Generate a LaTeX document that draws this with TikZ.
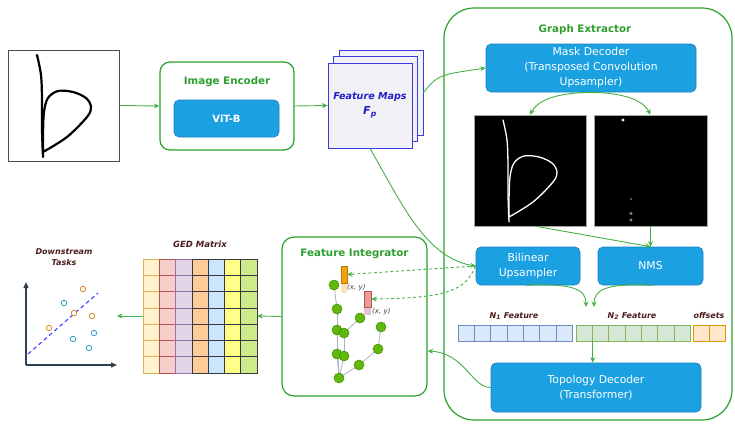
\documentclass[tikz,border=0pt]{standalone}
\usepackage{fontspec}
\setmainfont{DejaVu Sans}
\usetikzlibrary{arrows.meta}

\definecolor{boxgreen}{HTML}{2AA02A}
\definecolor{titlegreen}{HTML}{2E9E2E}
\definecolor{arrowgreen}{HTML}{45B045}
\definecolor{blockblue}{HTML}{1BA1E2}
\definecolor{blockline}{HTML}{1780C2}
\definecolor{fmblue}{HTML}{3A3AE0}
\definecolor{fmtext}{HTML}{2020C8}
\definecolor{fmfill}{HTML}{F2F2F6}
\definecolor{lblbrown}{HTML}{4A1C1C}
\definecolor{n1fill}{HTML}{DAE8FC}\definecolor{n1line}{HTML}{6C8EBF}
\definecolor{n2fill}{HTML}{D5E8D4}\definecolor{n2line}{HTML}{82B366}
\definecolor{offfill}{HTML}{FFE6CC}\definecolor{offline}{HTML}{D79B00}
\definecolor{gAf}{HTML}{FFF2CC}\definecolor{gAl}{HTML}{D6B656}
\definecolor{gBf}{HTML}{F8CECC}\definecolor{gBl}{HTML}{B85450}
\definecolor{gCf}{HTML}{E1D5E7}\definecolor{gCl}{HTML}{9673A6}
\definecolor{gDf}{HTML}{FFCC99}\definecolor{gDl}{HTML}{36393D}
\definecolor{gEf}{HTML}{CCE5FF}\definecolor{gEl}{HTML}{36393D}
\definecolor{gFf}{HTML}{FFFF88}\definecolor{gFl}{HTML}{36393D}
\definecolor{gGf}{HTML}{CDEB8B}\definecolor{gGl}{HTML}{36393D}
\definecolor{nodegreen}{HTML}{60B80C}\definecolor{nodeline}{HTML}{3C8A00}
\definecolor{edgegrey}{HTML}{A8B4C4}
\definecolor{axiscol}{HTML}{2F4050}
\definecolor{ptorange}{HTML}{D98A2B}\definecolor{ptblue}{HTML}{2F9FC8}
\definecolor{obar}{HTML}{F0A30A}\definecolor{obarline}{HTML}{C07800}\definecolor{obarfade}{HTML}{FBE3B8}
\definecolor{rbar}{HTML}{EA9A9A}\definecolor{rbarline}{HTML}{B85450}\definecolor{rbarfade}{HTML}{E3C3D8}

\tikzset{
  frame/.style={draw=boxgreen, line width=1.2pt},
  ttl/.style={text=titlegreen, font=\bfseries\fontsize{10.3}{12}\selectfont},
  block/.style={rounded corners=5pt, fill=blockblue, draw=blockline, line width=0.6pt,
    text=white, align=center, inner sep=0pt, font=\fontsize{10.8}{15}\selectfont},
  garrow/.style={draw=arrowgreen, line width=0.9pt, -{Stealth[length=5.5pt,width=5pt]}},
  gdash/.style={garrow, dash pattern=on 3pt off 2.5pt},
  fmpage/.style={draw=fmblue, fill=fmfill, line width=0.9pt, minimum width=84pt, minimum height=85pt, inner sep=0pt},
  cellbox/.style={minimum width=16.3pt, minimum height=16pt, inner sep=0pt, line width=0.7pt},
  lbl/.style={text=lblbrown, font=\bfseries\itshape\fontsize{8}{10}\selectfont},
  gnode/.style={circle, fill=nodegreen, draw=nodeline, line width=0.5pt, minimum size=10pt, inner sep=0pt},
  gedge/.style={draw=edgegrey, line width=0.8pt},
  mask/.style={fill=black, draw=gray!70, line width=0.6pt, inner sep=0pt},
  pt/.style={circle, line width=0.8pt, fill=white, minimum size=5.5pt, inner sep=0pt},
}

% the handwritten letter, relative to the top-left corner of its frame
\newcommand{\letterb}[2]{%
  \draw[shift={#1}, line cap=round, line join=round, #2]
    plot[smooth, tension=0.55] coordinates {(29,5) (33,25) (34,50) (34,80) (35,107)};
  \draw[shift={#1}, line cap=round, line join=round, #2]
    plot[smooth, tension=0.55] coordinates {(35,102) (59,87) (79,67) (83,57) (78,48) (65,42) (50,41) (40,48) (36,62) (35,85) (35,102)};
}

\begin{document}
\begin{tikzpicture}[x=1pt, y=-1pt]
\useasboundingbox (0,0) rectangle (735,426);

% ---------- input sketch ----------
\node[draw=gray!60!black, line width=0.9pt, minimum width=111pt, minimum height=111pt, inner sep=0pt] (img) at (63.5,105.5) {};
\letterb{(8,50)}{black, line width=2.2pt}

% ---------- image encoder ----------
\node[frame, rounded corners=10pt, minimum width=134pt, minimum height=88pt, inner sep=0pt] (enc) at (227,106) {};
\node[ttl] (enctitle) at (227,82) {Image Encoder};
\node[block, minimum width=105pt, minimum height=37pt, font=\bfseries\fontsize{10}{12}\selectfont] (vit) at (226.5,118.5) {ViT-B};

% ---------- feature maps ----------
\node[fmpage] (fmC) at (381,92.5) {};
\node[fmpage] (fmB) at (375.5,99) {};
\node[fmpage, align=center, text=fmtext, font=\bfseries\itshape\fontsize{9.6}{15}\selectfont] (fm) at (370,105.5) {Feature Maps\\{\fontsize{11}{15}\selectfont F\textsubscript{p}}};

% ---------- graph extractor ----------
\node[frame, rounded corners=30pt, minimum width=288pt, minimum height=412pt, inner sep=0pt] (ge) at (588,214) {};
\node[ttl] (getitle) at (585,30) {Graph Extractor};
\node[block, minimum width=210pt, minimum height=48pt] (md) at (591,68) {Mask Decoder\\(Transposed Convolution\\Upsampler)};

\node[mask, minimum width=112pt, minimum height=111pt] (mask1) at (530,170.5) {};
\letterb{(474,115)}{white, line width=1.3pt}
\node[mask, minimum width=113pt, minimum height=111pt] (mask2) at (650.5,170.5) {};
\fill[white] (623,120) circle (1.6);
\fill[gray!70] (631,199) circle (0.9);
\fill[gray!90] (631,213.5) circle (1.6);
\fill[gray!95] (631,220) circle (1.6);

\node[block, minimum width=104pt, minimum height=38pt] (bu) at (528,266) {Bilinear\\Upsampler};
\node[block, minimum width=105pt, minimum height=38pt] (nms) at (650.5,266) {NMS};

% token rows
\foreach \i in {0,...,6}
  \node[cellbox, fill=n1fill, draw=n1line] (na\i) at ({466.2+16.3*\i},333) {};
\foreach \i in {0,...,6}
  \node[cellbox, fill=n2fill, draw=n2line] (nb\i) at ({584.2+16.3*\i},333) {};
\foreach \i in {0,1}
  \node[cellbox, fill=offfill, draw=offline] (of\i) at ({701.2+16.3*\i},333) {};
\node[lbl] (n1lbl) at (514,316) {N\textsubscript{1} Feature};
\node[lbl] (n2lbl) at (632,316) {N\textsubscript{2} Feature};
\node[lbl] (offlbl) at (709,316) {offsets};

\node[block, minimum width=210pt, minimum height=49pt] (td) at (596,387.5) {Topology Decoder\\(Transformer)};

% ---------- feature integrator ----------
\node[frame, rounded corners=12pt, minimum width=145pt, minimum height=159pt, inner sep=0pt] (fi) at (354.5,316.5) {};
\node[ttl] (fititle) at (354.5,254) {Feature Integrator};

\foreach \n/\x/\y in {g1/334/285, g2/337/309, g3/337/330, g4/344/333, g5/360/318, g6/381/327,
                       g7/378/349, g8/359/365, g9/337/354, g10/344/356, g11/339/378}
  \coordinate (\n) at (\x,\y);
\foreach \a/\b in {g1/g2, g2/g3, g3/g9, g9/g11, g4/g10, g10/g11, g3/g11, g4/g5, g6/g7, g7/g8, g8/g11}
  \draw[gedge] (\a) -- (\b);
\foreach \n in {g1,g2,g3,g9,g4,g10,g5,g6,g7,g8,g11}
  \node[gnode] (\n n) at (\n) {};

\node[fill=obarfade, inner sep=0pt, minimum width=6pt, minimum height=10pt] (ofade) at (344,288) {};
\node[fill=obar, draw=obarline, line width=0.5pt, inner sep=0pt, minimum width=6pt, minimum height=17pt] (obarn) at (344,274.5) {};
\node[fill=rbarfade, inner sep=0pt, minimum width=7pt, minimum height=8pt] (rfade) at (367.5,311) {};
\node[fill=rbar, draw=rbarline, line width=0.5pt, inner sep=0pt, minimum width=7pt, minimum height=16pt] (rbarn) at (367.5,299) {};
\node[anchor=west, inner sep=0pt, text=black!75, font=\itshape\fontsize{7}{8}\selectfont] (xy1) at (347,288) {(x,\,\,y)};
\node[anchor=west, inner sep=0pt, text=black!75, font=\itshape\fontsize{7}{8}\selectfont] (xy2) at (372,312) {(x,\,\,y)};

% ---------- GED matrix ----------
\node[minimum width=114pt, minimum height=114pt, inner sep=0pt] (ged) at (200,316) {};
\node[lbl, font=\bfseries\itshape\fontsize{8.5}{10}\selectfont] (gedlbl) at (200,244) {GED Matrix};
\foreach \f/\l [count=\c from 0] in {gAf/gAl, gBf/gBl, gCf/gCl, gDf/gDl, gEf/gEl, gFf/gFl, gGf/gGl}
  \foreach \r in {0,...,6}
    \node[cellbox, minimum height=16.3pt, fill=\f, draw=\l] (m\c\r) at ({151.15+16.3*\c},{267.15+16.3*\r}) {};

% ---------- downstream tasks ----------
\node[lbl, align=center, font=\bfseries\itshape\fontsize{8}{11.5}\selectfont] (dslbl) at (64,257) {Downstream\\Tasks};
\coordinate (origin) at (26,365);
\coordinate (ytip) at (26,282);
\coordinate (xtip) at (117,365);
\draw[axiscol, line width=1.3pt, -{Triangle[length=6pt,width=5pt]}] (origin) -- (ytip);
\draw[axiscol, line width=1.3pt, -{Triangle[length=6pt,width=5pt]}] (origin) -- (xtip);
\coordinate (fitA) at (28,354);
\coordinate (fitB) at (98,293);
\draw[blue!70, line width=1.2pt, dash pattern=on 4pt off 3pt] (fitA) -- (fitB);
\foreach \x/\y in {83/289, 74/313, 92/316, 49/328}
  \node[pt, draw=ptorange] at (\x,\y) {};
\foreach \x/\y in {64/303, 94/333, 73/339, 89/348}
  \node[pt, draw=ptblue] at (\x,\y) {};

% ---------- connectors ----------
\draw[garrow] (img.east) -- (enc.west);
\draw[garrow] (enc.east) -- (fm.west);
\draw[garrow] (fmC.east) .. controls (438,75) .. (md.west);
\draw[garrow] (md.south) .. controls (556,93) and (538,100) .. (mask1.north);
\draw[garrow] (md.south) .. controls (624,93) and (643,100) .. (mask2.north);
\draw[garrow] ([xshift=6pt]mask1.south) -- (nms.north);
\draw[garrow] (mask2.south) -- (nms.north);
\draw[garrow] (fm.south) .. controls (400,200) and (425,258) .. (bu.west);
\draw[gdash] (bu.west) -- (obarn.east);
\draw[gdash] (bu.west) .. controls (465,290) and (450,298) .. (rbarn.east);
\coordinate (join1) at (586,307);
\coordinate (join2) at (594,307);
\draw[garrow] ([xshift=-2pt]bu.south) .. controls (575,283) and (586,290) .. (join1);
\draw[garrow] ([xshift=2pt]nms.south) .. controls (605,283) and (594,290) .. (join2);
\draw[garrow] (nb0.south east) -- (nb0.south east |- td.north);
\draw[garrow] (td.west) .. controls (472,388) and (465,353) .. ([yshift=-34.5pt]fi.east);
\draw[garrow] (fi.west) -- (ged.east);
\coordinate (plotin) at (117,316);
\draw[garrow] (ged.west) -- (plotin);
\end{tikzpicture}
\end{document}
